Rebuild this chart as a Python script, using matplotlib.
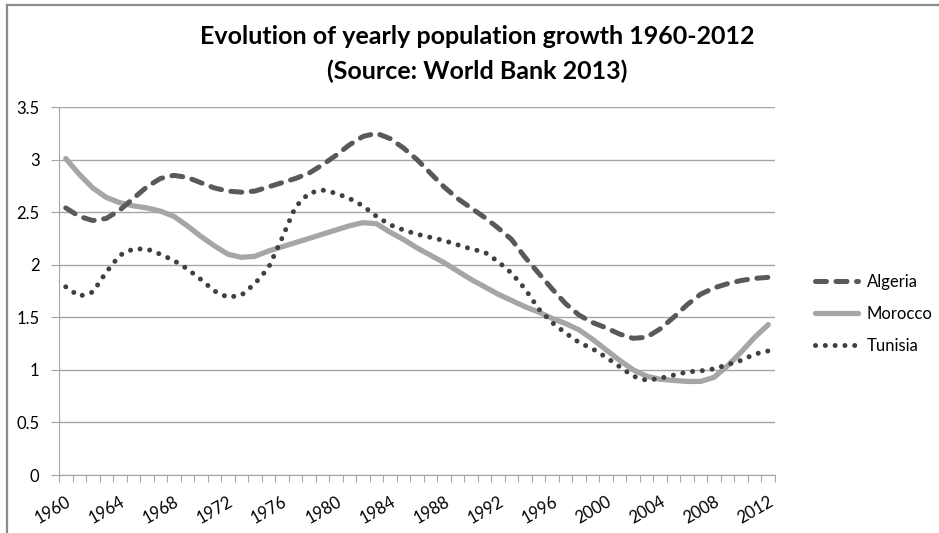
import matplotlib.pyplot as plt
from matplotlib.lines import Line2D

# Yearly population growth (%)
years = list(range(1960, 2013))

algeria = [2.54, 2.46, 2.42, 2.44, 2.52, 2.63, 2.74, 2.82, 2.85, 2.83,
           2.78, 2.73, 2.70, 2.69, 2.70, 2.74, 2.78, 2.82, 2.87, 2.95,
           3.04, 3.14, 3.22, 3.25, 3.20, 3.11, 3.00, 2.87, 2.74, 2.63,
           2.54, 2.45, 2.35, 2.24, 2.07, 1.92, 1.77, 1.63, 1.52, 1.45,
           1.40, 1.34, 1.30, 1.31, 1.39, 1.50, 1.62, 1.72, 1.78, 1.82,
           1.85, 1.87, 1.88]

morocco = [3.01, 2.86, 2.73, 2.64, 2.59, 2.56, 2.54, 2.51, 2.46, 2.37,
           2.27, 2.18, 2.10, 2.07, 2.08, 2.13, 2.17, 2.21, 2.25, 2.29,
           2.33, 2.37, 2.40, 2.39, 2.31, 2.24, 2.16, 2.09, 2.02, 1.94,
           1.86, 1.79, 1.72, 1.66, 1.60, 1.55, 1.49, 1.44, 1.38, 1.29,
           1.19, 1.09, 1.00, 0.94, 0.91, 0.90, 0.89, 0.89, 0.93, 1.04,
           1.17, 1.31, 1.43]

tunisia = [1.79, 1.70, 1.74, 1.93, 2.09, 2.15, 2.15, 2.10, 2.04, 1.96,
           1.86, 1.75, 1.69, 1.71, 1.82, 1.97, 2.25, 2.55, 2.68, 2.71,
           2.68, 2.63, 2.56, 2.46, 2.38, 2.33, 2.29, 2.26, 2.23, 2.19,
           2.15, 2.12, 2.03, 1.92, 1.77, 1.58, 1.45, 1.35, 1.26, 1.20,
           1.12, 1.03, 0.94, 0.90, 0.92, 0.95, 0.98, 0.99, 1.01, 1.05,
           1.09, 1.15, 1.18]

y_ticks = [0, 0.5, 1, 1.5, 2, 2.5, 3, 3.5]
y_ticklabels = ['0', '0.5', '1', '1.5', '2', '2.5', '3', '3.5']

plt.rcParams['font.family'] = ['Lato', 'DejaVu Sans']

W, H = 939, 533
fig = plt.figure(figsize=(W / 100, H / 100), dpi=100)
ax = fig.add_axes([59 / W, 1 - 475 / H, (775 - 59) / W, (475 - 107) / H])

x = list(range(len(years)))
ax.plot(x, algeria, color='#595959', lw=3.6, dashes=(2.2, 1.9),
        dash_capstyle='round', label='Algeria', zorder=3)
ax.plot(x, morocco, color='#a6a6a6', lw=3.8, solid_capstyle='round',
        label='Morocco', zorder=2)
ax.plot(x, tunisia, color='#404040', lw=3.6, dashes=(0.01, 1.95),
        dash_capstyle='round', label='Tunisia', zorder=4)

ax.set_xlim(-0.5, len(years) - 0.5)
ax.set_ylim(0, 3.5)

# y axis
ax.set_yticks(y_ticks)
ax.set_yticklabels(y_ticklabels, fontsize=12)
ax.yaxis.grid(True, color='#a6a6a6', lw=1)
ax.set_axisbelow(True)
ax.tick_params(axis='y', length=6, color='#a6a6a6', pad=8)

# x axis: tick marks between categories, labels every 4 years
ax.set_xticks([i - 0.5 for i in range(len(years) + 1)])
ax.set_xticklabels([])
ax.tick_params(axis='x', which='major', length=5, color='#a6a6a6')
label_pos = [i for i, yr in enumerate(years) if (yr - 1960) % 4 == 0]
ax.set_xticks(label_pos, minor=True)
ax.set_xticklabels([str(years[i]) for i in label_pos], minor=True,
                   fontsize=12, rotation=30, ha='right', va='top',
                   rotation_mode='anchor')
ax.tick_params(axis='x', which='minor', length=0, pad=13)

for side in ['top', 'right']:
    ax.spines[side].set_visible(False)
for side in ['left', 'bottom']:
    ax.spines[side].set_color('#a6a6a6')

# title
fig.text(477 / W, 1 - 36 / H, 'Evolution of yearly population growth 1960-2012',
         ha='center', va='center', fontsize=18, fontweight='bold')
fig.text(477 / W, 1 - 71 / H, '(Source: World Bank 2013)',
         ha='center', va='center', fontsize=18, fontweight='bold')

# legend
ax.legend(loc='upper left', bbox_to_anchor=(815 / W, 1 - 274 / H),
          bbox_transform=fig.transFigure, frameon=False, fontsize=12,
          handlelength=2.6, handletextpad=0.5, labelspacing=0.95,
          borderpad=0, borderaxespad=0)

# chart border (only top and left edges are visible in the crop)
fig.add_artist(Line2D([6.5 / W, 6.5 / W], [0, 1 - 4.5 / H],
                      transform=fig.transFigure, color='#8c8c8c', lw=1.6))
fig.add_artist(Line2D([6.5 / W, 1], [1 - 4.5 / H, 1 - 4.5 / H],
                      transform=fig.transFigure, color='#8c8c8c', lw=1.6))

fig.savefig('out.png', dpi=100)
